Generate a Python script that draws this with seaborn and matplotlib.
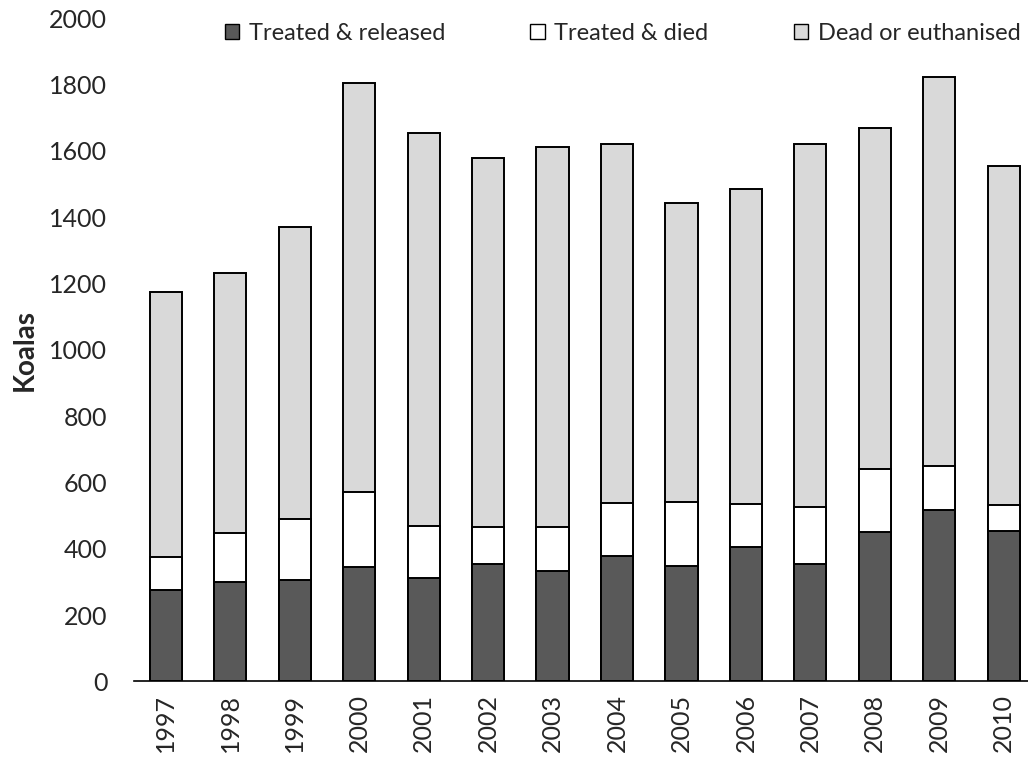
import matplotlib
matplotlib.use("Agg")
import matplotlib.pyplot as plt
from matplotlib.patches import Patch
import seaborn as sns
import pandas as pd


years = ["1997", "1998", "1999", "2000", "2001", "2002", "2003",
         "2004", "2005", "2006", "2007", "2008", "2009", "2010"]
released = [276, 300, 305, 346, 311, 354, 333, 378, 349, 404, 355, 450, 518, 455]
died = [100, 148, 186, 226, 159, 112, 134, 159, 191, 131, 170, 191, 132, 76]
dead = [797, 782, 880, 1232, 1183, 1111, 1145, 1083, 901, 950, 1095, 1027, 1171, 1023]

labels = ["Treated & released", "Treated & died", "Dead or euthanised"]
colors = ["#595959", "#ffffff", "#d9d9d9"]

sns.set_style("white")
plt.rcParams["font.family"] = ["Lato", "DejaVu Sans"]

df = pd.DataFrame({"year": years, "released": released, "died": died, "dead": dead})
df["treated"] = df["released"] + df["died"]
df["total"] = df["treated"] + df["dead"]

fig = plt.figure(figsize=(10.28, 7.6), dpi=100)
ax = fig.add_axes([0.130, 0.1033, 0.8696, 0.873])

# stack by overplotting cumulative totals
for col, c in zip(["total", "treated", "released"], colors[::-1]):
    sns.barplot(x="year", y=col, data=df, color=c, width=0.5,
                edgecolor="black", linewidth=1.4, saturation=1, ax=ax)

ax.set_ylim(0, 2000)
ax.set_xlim(-0.5, 13.37)
ax.set_yticks(range(0, 2001, 200))
ax.tick_params(axis="y", labelsize=18, length=0, pad=19)
ax.tick_params(axis="x", labelsize=18, length=0, pad=9, rotation=90)
ax.set_xlabel("")
ax.set_ylabel("Koalas", fontsize=20, fontweight="bold")
ax.yaxis.set_label_coords(-0.107, 0.5)

for s in ["top", "right", "left"]:
    ax.spines[s].set_visible(False)
ax.spines["bottom"].set_color("black")
ax.spines["bottom"].set_linewidth(1.2)

handles = [Patch(facecolor=c, edgecolor="black", linewidth=1) for c in colors]
ax.legend(handles, labels, ncol=3, frameon=False, fontsize=17,
          loc="center right", bbox_to_anchor=(0.992, 0.977),
          handlelength=0.6, handleheight=0.6, handletextpad=0.42, columnspacing=3.6,
          borderaxespad=0, borderpad=0)

plt.savefig("out.png", dpi=100)
